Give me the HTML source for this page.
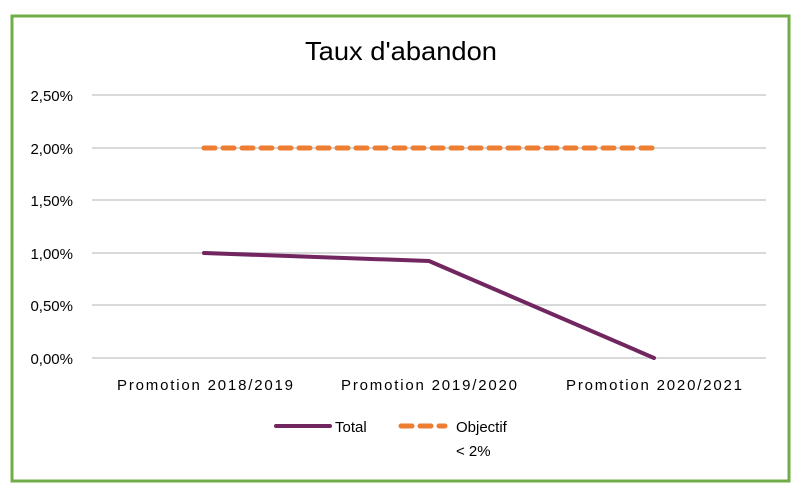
<!DOCTYPE html>
<html><head><style>body{margin:0;background:#fff}svg{display:block}</style></head>
<body>
<svg width="800" height="496" xmlns="http://www.w3.org/2000/svg" font-family="Liberation Sans, sans-serif">
<rect x="0" y="0" width="800" height="496" fill="#fff"/>
<rect x="12" y="16" width="777" height="465" fill="none" stroke="#70AD47" stroke-width="3"/>
<text x="401" y="60" font-size="26" text-anchor="middle" fill="#000" textLength="192" lengthAdjust="spacingAndGlyphs">Taux d'abandon</text>
<g stroke="#d9d9d9" stroke-width="2">
<line x1="92" y1="95" x2="766" y2="95"/>
<line x1="92" y1="148" x2="766" y2="148"/>
<line x1="92" y1="200" x2="766" y2="200"/>
<line x1="92" y1="253" x2="766" y2="253"/>
<line x1="92" y1="305" x2="766" y2="305"/>
<line x1="92" y1="358" x2="766" y2="358"/>
</g>
<g font-size="15" fill="#000" text-anchor="end">
<text x="73" y="101">2,50%</text>
<text x="73" y="154">2,00%</text>
<text x="73" y="206">1,50%</text>
<text x="73" y="259">1,00%</text>
<text x="73" y="311">0,50%</text>
<text x="73" y="364">0,00%</text>
</g>
<g font-size="15" fill="#000">
<text x="117" y="390" textLength="176" lengthAdjust="spacing">Promotion  2018/2019</text>
<text x="341" y="390" textLength="176" lengthAdjust="spacing">Promotion  2019/2020</text>
<text x="566" y="390" textLength="176" lengthAdjust="spacing">Promotion  2020/2021</text>
</g>
<line x1="204" y1="148" x2="654" y2="148" stroke="#ED7D31" stroke-width="5" stroke-dasharray="11 8" stroke-linecap="round"/>
<polyline points="204,253 429,261 654,358" fill="none" stroke="#722660" stroke-width="4" stroke-linecap="round" stroke-linejoin="round"/>
<line x1="276" y1="426" x2="330" y2="426" stroke="#722660" stroke-width="4" stroke-linecap="round"/>
<text x="335" y="432" font-size="15" fill="#000">Total</text>
<line x1="401" y1="426" x2="445" y2="426" stroke="#ED7D31" stroke-width="5" stroke-dasharray="11 8" stroke-linecap="round"/>
<text x="456" y="432" font-size="15" fill="#000">Objectif</text>
<text x="456" y="456" font-size="15" fill="#000">&lt; 2%</text>
</svg>
</body></html>
